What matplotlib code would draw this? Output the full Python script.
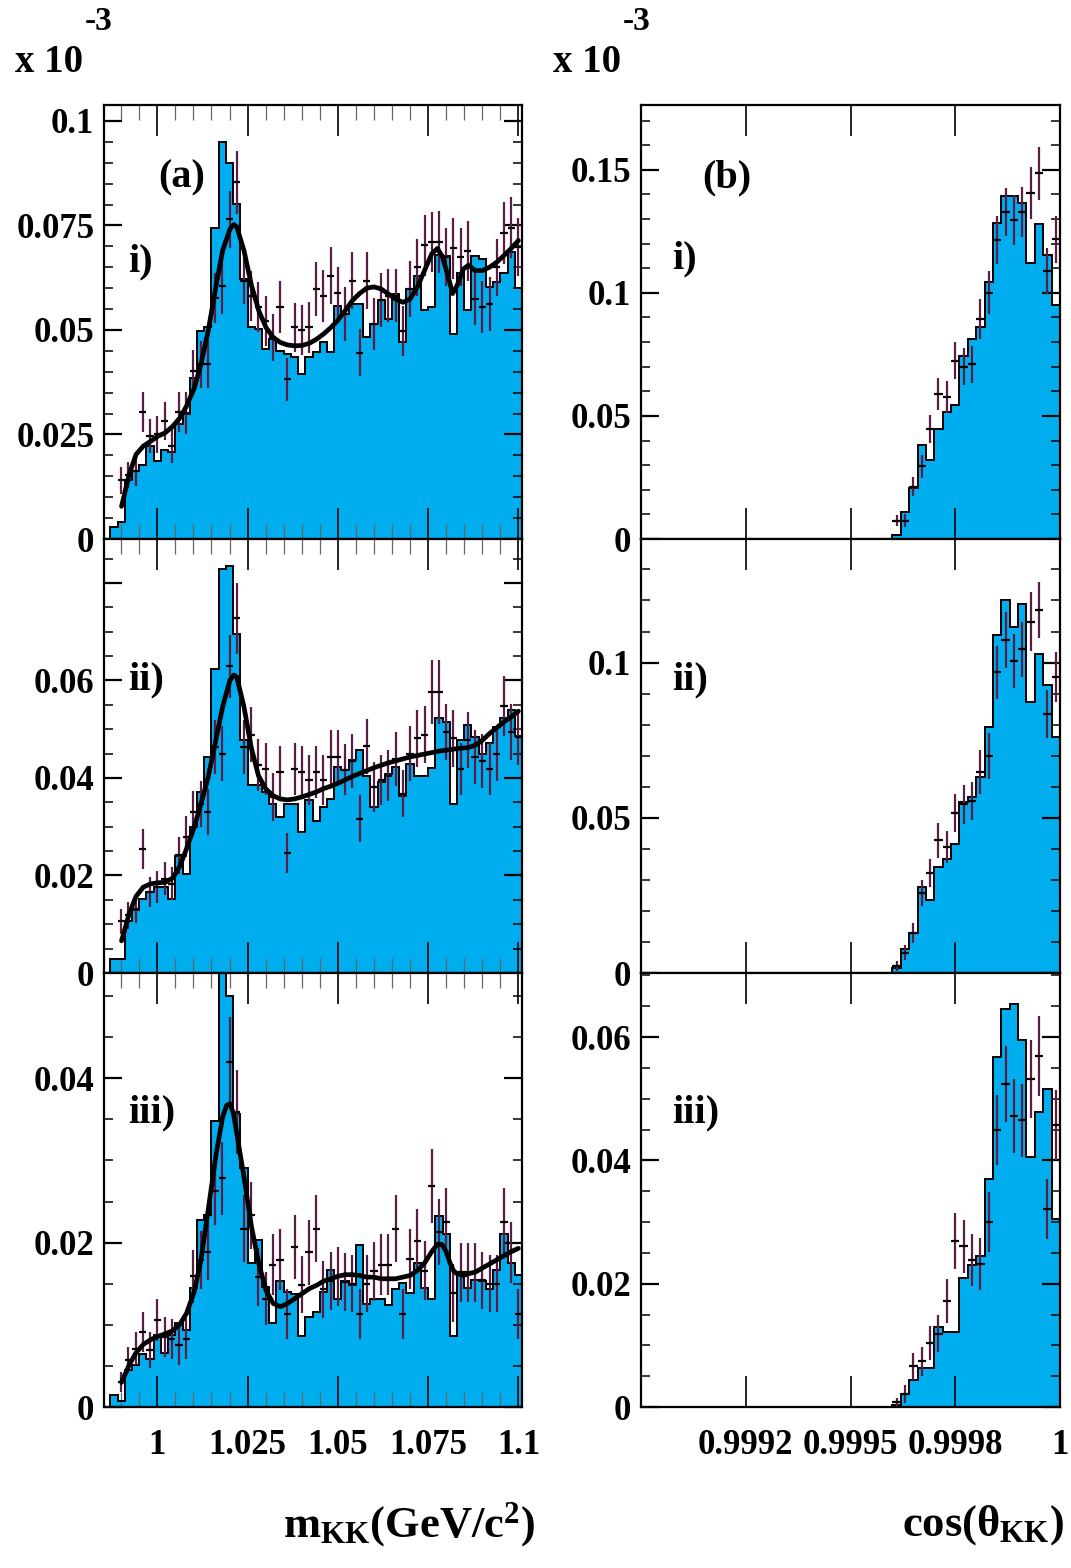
"""K+K- mass and opening-angle distributions, ROOT-style 3x2 panel figure."""
import numpy as np
import matplotlib
matplotlib.use("Agg")
import matplotlib.pyplot as plt
from matplotlib.ticker import MultipleLocator

plt.rcParams["font.family"] = ["Liberation Serif", "DejaVu Serif"]
plt.rcParams["font.weight"] = "bold"
plt.rcParams["mathtext.fontset"] = "custom"
plt.rcParams["mathtext.rm"] = "Liberation Serif:bold"
plt.rcParams["mathtext.it"] = "Liberation Serif:bold:italic"
plt.rcParams["mathtext.bf"] = "Liberation Serif:bold"

FILL = "#00aeef"
ERR = "#5a1e46"

# ---- m_KK histograms (units of 1e-3), 0.002 GeV bins from 0.987 ----
M_EDGES = np.linspace(0.987, 1.101, 58)

hist_a1 = [0.0028, 0.0041, 0.0142, 0.0162, 0.0178, 0.0222, 0.0186, 0.0212, 0.0208, 0.0274,
           0.0300, 0.0384, 0.0498, 0.0506, 0.0745, 0.0949, 0.0900, 0.0801, 0.0622, 0.0506,
           0.0502, 0.0454, 0.0478, 0.0450, 0.0442, 0.0435, 0.0395, 0.0435, 0.0448, 0.0472,
           0.0448, 0.0558, 0.0538, 0.0563, 0.0563, 0.0483, 0.0514, 0.0571, 0.0526, 0.0586,
           0.0472, 0.0598, 0.0628, 0.0547, 0.0556, 0.0680, 0.0678, 0.0490, 0.0635, 0.0547,
           0.0678, 0.0670, 0.0602, 0.0614, 0.0635, 0.0686, 0.0600]
hist_a2 = [0.0029, 0.0029, 0.0107, 0.0129, 0.0152, 0.0166, 0.0176, 0.0176, 0.0152, 0.0239,
           0.0203, 0.0299, 0.0371, 0.0443, 0.0624, 0.0828, 0.0834, 0.0696, 0.0478, 0.0385,
           0.0385, 0.0371, 0.0347, 0.0320, 0.0347, 0.0347, 0.0289, 0.0355, 0.0311, 0.0340,
           0.0357, 0.0422, 0.0417, 0.0436, 0.0458, 0.0405, 0.0340, 0.0392, 0.0409, 0.0422,
           0.0362, 0.0428, 0.0405, 0.0405, 0.0421, 0.0522, 0.0515, 0.0347, 0.0478, 0.0508,
           0.0484, 0.0450, 0.0472, 0.0504, 0.0522, 0.0539, 0.0485]
hist_a3 = [0.0015, 0.0007, 0.0045, 0.0051, 0.0065, 0.0059, 0.0087, 0.0066, 0.0087, 0.0102,
           0.0094, 0.0145, 0.0227, 0.0233, 0.0348, 0.0620, 0.0500, 0.0357, 0.0291, 0.0175,
           0.0203, 0.0146, 0.0102, 0.0153, 0.0140, 0.0138, 0.0086, 0.0109, 0.0116, 0.0140,
           0.0167, 0.0132, 0.0153, 0.0149, 0.0197, 0.0125, 0.0131, 0.0131, 0.0124, 0.0144,
           0.0151, 0.0139, 0.0175, 0.0145, 0.0131, 0.0232, 0.0210, 0.0086, 0.0162, 0.0145,
           0.0154, 0.0153, 0.0143, 0.0167, 0.0211, 0.0175, 0.0160]

# data points sit in bins 1..56
pts_a1 = [0.0140, 0.0153, 0.0162, 0.0304, 0.0246, 0.0250, 0.0282, 0.0222, 0.0304, 0.0302,
          0.0402, 0.0418, 0.0418, 0.0576, 0.0606, 0.0765, 0.0853, 0.0618, 0.0582, 0.0554,
          0.0522, 0.0482, 0.0554, 0.0382, 0.0506, 0.0499, 0.0506, 0.0598, 0.0582, 0.0630,
          0.0588, 0.0538, 0.0618, 0.0446, 0.0618, 0.0515, 0.0571, 0.0582, 0.0582, 0.0498,
          0.0598, 0.0650, 0.0702, 0.0710, 0.0710, 0.0674, 0.0695, 0.0674, 0.0688, 0.0575,
          0.0554, 0.0562, 0.0650, 0.0731, 0.0745, 0.0698]
err_a1 = [0.0032, 0.0032, 0.0036, 0.0048, 0.0040, 0.0044, 0.0046, 0.0040, 0.0048, 0.0050,
          0.0050, 0.0056, 0.0058, 0.0060, 0.0068, 0.0068, 0.0076, 0.0056, 0.0060, 0.0060,
          0.0060, 0.0056, 0.0062, 0.0052, 0.0058, 0.0060, 0.0060, 0.0064, 0.0062, 0.0068,
          0.0062, 0.0064, 0.0068, 0.0056, 0.0068, 0.0062, 0.0064, 0.0064, 0.0064, 0.0060,
          0.0066, 0.0068, 0.0072, 0.0072, 0.0074, 0.0070, 0.0072, 0.0070, 0.0072, 0.0064,
          0.0062, 0.0064, 0.0068, 0.0074, 0.0074, 0.0070]
pts_a2 = [0.0106, 0.0118, 0.0131, 0.0255, 0.0166, 0.0176, 0.0193, 0.0183, 0.0241, 0.0279,
          0.0330, 0.0347, 0.0330, 0.0463, 0.0450, 0.0629, 0.0727, 0.0463, 0.0489, 0.0426,
          0.0419, 0.0361, 0.0412, 0.0246, 0.0419, 0.0412, 0.0396, 0.0412, 0.0396, 0.0443,
          0.0443, 0.0417, 0.0435, 0.0316, 0.0465, 0.0381, 0.0396, 0.0405, 0.0439, 0.0368,
          0.0450, 0.0481, 0.0489, 0.0576, 0.0576, 0.0494, 0.0481, 0.0419, 0.0478, 0.0443,
          0.0435, 0.0419, 0.0450, 0.0548, 0.0494, 0.0484]
err_a2 = [0.0026, 0.0027, 0.0029, 0.0041, 0.0031, 0.0033, 0.0034, 0.0034, 0.0038, 0.0042,
          0.0044, 0.0047, 0.0047, 0.0055, 0.0056, 0.0065, 0.0072, 0.0055, 0.0056, 0.0053,
          0.0053, 0.0049, 0.0053, 0.0041, 0.0053, 0.0053, 0.0051, 0.0053, 0.0051, 0.0056,
          0.0056, 0.0053, 0.0055, 0.0048, 0.0056, 0.0051, 0.0051, 0.0053, 0.0055, 0.0049,
          0.0056, 0.0058, 0.0058, 0.0065, 0.0065, 0.0058, 0.0058, 0.0053, 0.0058, 0.0055,
          0.0055, 0.0053, 0.0056, 0.0062, 0.0058, 0.0058]
pts_a3 = [0.0030, 0.0057, 0.0071, 0.0091, 0.0069, 0.0106, 0.0085, 0.0083, 0.0075, 0.0083,
          0.0159, 0.0179, 0.0189, 0.0263, 0.0278, 0.0420, 0.0359, 0.0217, 0.0233, 0.0158,
          0.0132, 0.0173, 0.0179, 0.0113, 0.0195, 0.0149, 0.0188, 0.0217, 0.0143, 0.0153,
          0.0159, 0.0152, 0.0150, 0.0113, 0.0150, 0.0165, 0.0173, 0.0173, 0.0217, 0.0113,
          0.0180, 0.0202, 0.0166, 0.0269, 0.0213, 0.0225, 0.0139, 0.0164, 0.0164, 0.0164,
          0.0154, 0.0150, 0.0150, 0.0225, 0.0188, 0.0113]
err_a3 = [0.0012, 0.0016, 0.0020, 0.0024, 0.0022, 0.0026, 0.0024, 0.0024, 0.0024, 0.0025,
          0.0032, 0.0035, 0.0035, 0.0041, 0.0045, 0.0055, 0.0051, 0.0041, 0.0041, 0.0035,
          0.0032, 0.0037, 0.0037, 0.0030, 0.0039, 0.0035, 0.0039, 0.0041, 0.0035, 0.0035,
          0.0036, 0.0035, 0.0035, 0.0030, 0.0035, 0.0036, 0.0037, 0.0037, 0.0041, 0.0030,
          0.0037, 0.0039, 0.0036, 0.0045, 0.0040, 0.0041, 0.0035, 0.0036, 0.0036, 0.0036,
          0.0035, 0.0035, 0.0035, 0.0041, 0.0037, 0.0030]

# fit curves
fit_a1_x = [0.9901, 0.9922, 0.9941, 0.9961, 0.9982, 1.0002, 1.0022, 1.0043, 1.0063, 1.0081,
            1.0102, 1.0121, 1.0141, 1.0162, 1.0181, 1.0201, 1.0212, 1.0220, 1.0240, 1.0261,
            1.0281, 1.0301, 1.0321, 1.0341, 1.0361, 1.0381, 1.0401, 1.0421, 1.0441, 1.0460,
            1.0481, 1.0500, 1.0520, 1.0540, 1.0560, 1.0580, 1.0600, 1.0620, 1.0640, 1.0660,
            1.0680, 1.0700, 1.0720, 1.0740, 1.0760, 1.0776, 1.0790, 1.0806, 1.0818, 1.0830,
            1.0848, 1.0862, 1.0880, 1.0900, 1.0920, 1.0940, 1.0960, 1.0980, 1.1000]
fit_a1_y = [0.0078, 0.0154, 0.0202, 0.0222, 0.0234, 0.0246, 0.0254, 0.0270, 0.0290, 0.0318,
            0.0360, 0.0418, 0.0498, 0.0602, 0.0690, 0.0741, 0.0752, 0.0747, 0.0690, 0.0606,
            0.0546, 0.0506, 0.0482, 0.0470, 0.0464, 0.0462, 0.0463, 0.0468, 0.0478, 0.0490,
            0.0506, 0.0523, 0.0546, 0.0570, 0.0587, 0.0600, 0.0603, 0.0598, 0.0586, 0.0574,
            0.0566, 0.0574, 0.0602, 0.0642, 0.0682, 0.0695, 0.0674, 0.0626, 0.0587, 0.0606,
            0.0646, 0.0655, 0.0642, 0.0642, 0.0650, 0.0662, 0.0678, 0.0695, 0.0714]
fit_a2_x = [0.9901, 0.9922, 0.9941, 0.9961, 0.9982, 1.0002, 1.0022, 1.0043, 1.0063, 1.0081,
            1.0102, 1.0121, 1.0141, 1.0162, 1.0181, 1.0201, 1.0212, 1.0220, 1.0240, 1.0260,
            1.0280, 1.0300, 1.0320, 1.0340, 1.0360, 1.0380, 1.0400, 1.0420, 1.0440, 1.0460,
            1.0480, 1.0500, 1.0520, 1.0540, 1.0560, 1.0580, 1.0600, 1.0620, 1.0640, 1.0660,
            1.0680, 1.0700, 1.0720, 1.0740, 1.0760, 1.0780, 1.0800, 1.0820, 1.0840, 1.0860,
            1.0880, 1.0900, 1.0920, 1.0940, 1.0960, 1.0980, 1.1000]
fit_a2_y = [0.0066, 0.0121, 0.0157, 0.0176, 0.0183, 0.0185, 0.0186, 0.0195, 0.0220, 0.0255,
            0.0299, 0.0347, 0.0402, 0.0477, 0.0546, 0.0600, 0.0611, 0.0607, 0.0546, 0.0463,
            0.0405, 0.0378, 0.0364, 0.0357, 0.0355, 0.0357, 0.0361, 0.0366, 0.0371, 0.0378,
            0.0383, 0.0389, 0.0396, 0.0403, 0.0409, 0.0415, 0.0421, 0.0426, 0.0431, 0.0435,
            0.0439, 0.0443, 0.0446, 0.0449, 0.0452, 0.0455, 0.0457, 0.0459, 0.0461, 0.0462,
            0.0467, 0.0477, 0.0491, 0.0503, 0.0515, 0.0525, 0.0537]
fit_a3_x = [0.9901, 0.9922, 0.9941, 0.9961, 0.9982, 1.0002, 1.0022, 1.0043, 1.0063, 1.0081,
            1.0102, 1.0121, 1.0141, 1.0162, 1.0181, 1.0192, 1.0201, 1.0211, 1.0220, 1.0240,
            1.0261, 1.0281, 1.0301, 1.0321, 1.0341, 1.0361, 1.0381, 1.0401, 1.0421, 1.0441,
            1.0460, 1.0481, 1.0500, 1.0520, 1.0540, 1.0560, 1.0580, 1.0600, 1.0620, 1.0640,
            1.0660, 1.0680, 1.0700, 1.0720, 1.0740, 1.0760, 1.0776, 1.0788, 1.0800, 1.0811,
            1.0820, 1.0830, 1.0848, 1.0860, 1.0880, 1.0900, 1.0920, 1.0940, 1.0960, 1.0980,
            1.1000]
fit_a3_y = [0.0030, 0.0051, 0.0066, 0.0076, 0.0082, 0.0086, 0.0089, 0.0093, 0.0101, 0.0114,
            0.0140, 0.0179, 0.0240, 0.0305, 0.0353, 0.0367, 0.0369, 0.0357, 0.0333, 0.0280,
            0.0219, 0.0175, 0.0142, 0.0126, 0.0122, 0.0126, 0.0132, 0.0138, 0.0144, 0.0148,
            0.0153, 0.0156, 0.0159, 0.0161, 0.0161, 0.0160, 0.0158, 0.0158, 0.0156, 0.0156,
            0.0156, 0.0158, 0.0160, 0.0166, 0.0175, 0.0189, 0.0198, 0.0198, 0.0189, 0.0175,
            0.0166, 0.0162, 0.0160, 0.0162, 0.0164, 0.0169, 0.0174, 0.0179, 0.0184, 0.0189,
            0.0193]

# ---- cos(theta_KK) histograms, 2e-5 bins, non-empty from 0.9996 ----
C_EDGES = np.linspace(0.9996, 1.0, 21)

hist_b1 = [0.0016, 0.0111, 0.0206, 0.0383, 0.0322, 0.0448, 0.0515, 0.0546, 0.0743, 0.0813,
           0.0861, 0.1044, 0.1283, 0.1392, 0.1392, 0.1365, 0.1123, 0.1279, 0.1154, 0.0949]
pts_b1 = [0.0075, 0.0075, 0.0213, 0.0295, 0.0448, 0.0587, 0.0577, 0.0725, 0.0699, 0.0709,
          0.0892, 0.1001, 0.1214, 0.1327, 0.1297, 0.1327, 0.1404, 0.1485, 0.1089, 0.1218]
err_b1 = [0.0024, 0.0027, 0.0038, 0.0048, 0.0057, 0.0065, 0.0065, 0.0075, 0.0075, 0.0075,
          0.0081, 0.0088, 0.0098, 0.0098, 0.0102, 0.0102, 0.0106, 0.0106, 0.0092, 0.0095]
hist_b2 = [0.0016, 0.0077, 0.0129, 0.0277, 0.0234, 0.0341, 0.0366, 0.0416, 0.0551, 0.0567,
           0.0631, 0.0792, 0.1088, 0.1202, 0.1115, 0.1188, 0.0873, 0.1029, 0.0928, 0.0760]
pts_b2 = [0.0022, 0.0065, 0.0129, 0.0258, 0.0323, 0.0427, 0.0406, 0.0516, 0.0543, 0.0554,
          0.0647, 0.0699, 0.0968, 0.1073, 0.1005, 0.1043, 0.1131, 0.1169, 0.0833, 0.0954]
err_b2 = [0.0016, 0.0024, 0.0032, 0.0041, 0.0045, 0.0056, 0.0052, 0.0062, 0.0062, 0.0062,
          0.0070, 0.0073, 0.0086, 0.0091, 0.0086, 0.0089, 0.0095, 0.0091, 0.0077, 0.0081]
hist_b3 = [0.0004, 0.0021, 0.0043, 0.0064, 0.0064, 0.0129, 0.0122, 0.0122, 0.0210, 0.0231,
           0.0245, 0.0370, 0.0567, 0.0646, 0.0654, 0.0595, 0.0406, 0.0479, 0.0516, 0.0305]
pts_b3 = [0.0008, 0.0021, 0.0066, 0.0074, 0.0104, 0.0119, 0.0172, 0.0269, 0.0261, 0.0238,
          0.0232, 0.0300, 0.0449, 0.0524, 0.0472, 0.0465, 0.0532, 0.0570, 0.0321, 0.0457]
err_b3 = [0.0007, 0.0014, 0.0022, 0.0024, 0.0028, 0.0030, 0.0035, 0.0045, 0.0043, 0.0042,
          0.0042, 0.0048, 0.0057, 0.0062, 0.0060, 0.0059, 0.0064, 0.0065, 0.0049, 0.0057]

M_TICKS = [1.0, 1.025, 1.05, 1.075, 1.1]
M_LABELS = ["1", "1.025", "1.05", "1.075", "1.1"]
C_TICKS = [0.99925, 0.9995, 0.99975, 1.0]
C_LABELS = ["0.9992", "0.9995", "0.9998", "1"]


def style(ax, xminor, bottom):
    for sp in ax.spines.values():
        sp.set_linewidth(1.6)
    ax.tick_params(which="both", direction="in", top=True, right=True,
                   labelsize=25, labelbottom=bottom)
    ax.tick_params(axis="x", which="major", length=22, width=1.2, pad=16)
    ax.tick_params(axis="x", which="minor", length=11, width=0.9, color="#666666")
    ax.tick_params(axis="y", which="major", length=13, width=1.6, pad=7)
    ax.tick_params(axis="y", which="minor", length=6.5, width=1.1)
    if xminor:
        ax.xaxis.set_minor_locator(MultipleLocator(xminor))


def draw(ax, edges, hist, pts, err, half):
    centers = 0.5 * (edges[:-1] + edges[1:])
    centers = centers[len(centers) - len(pts):]
    ax.stairs(hist, edges, fill=True, color=FILL, lw=0, zorder=1)
    ax.stairs(hist, edges, color="black", lw=1.4, zorder=2)
    ax.errorbar(centers, pts, yerr=err, fmt="none", ecolor=ERR, elinewidth=1.6, zorder=3)
    ax.errorbar(centers, pts, xerr=half, fmt="none", ecolor="black", elinewidth=1.6, zorder=4)


fig = plt.figure(figsize=(10.71, 15.68), dpi=100)
W, H = 1071, 1568
rows = [(105, 539), (539, 973), (973, 1407)]

left_panels = [
    (hist_a1, pts_a1, err_a1, fit_a1_x, fit_a1_y, 0.1038,
     [0, 0.025, 0.05, 0.075, 0.1], ["0", "0.025", "0.05", "0.075", "0.1"], "i)", 0.638),
    (hist_a2, pts_a2, err_a2, fit_a2_x, fit_a2_y, 0.0890,
     [0, 0.02, 0.04, 0.06, 0.08], ["0", "0.02", "0.04", "0.06", ""], "ii)", 0.675),
    (hist_a3, pts_a3, err_a3, fit_a3_x, fit_a3_y, 0.0528,
     [0, 0.02, 0.04], ["0", "0.02", "0.04"], "iii)", 0.677),
]
right_panels = [
    (hist_b1, pts_b1, err_b1, 0.1763, 0.01,
     [0, 0.05, 0.1, 0.15], ["0", "0.05", "0.1", "0.15"], "i)", 0.645),
    (hist_b2, pts_b2, err_b2, 0.1398, 0.01,
     [0, 0.05, 0.1], ["0", "0.05", "0.1"], "ii)", 0.675),
    (hist_b3, pts_b3, err_b3, 0.0704, 0.005,
     [0, 0.02, 0.04, 0.06], ["0", "0.02", "0.04", "0.06"], "iii)", 0.677),
]

for r, (top, bot) in enumerate(rows):
    y0 = 1 - bot / H
    h = (bot - top) / H
    last = r == 2

    hist, pts, err, fx, fy, ymax, yt, yl, tag, ty = left_panels[r]
    ax = fig.add_axes([104 / W, y0, 418 / W, h])
    draw(ax, M_EDGES, hist, pts, err, 0.001)
    ax.plot(fx, fy, color="black", lw=3.4, zorder=5, solid_capstyle="round")
    ax.set_xlim(0.98524, 1.101)
    ax.set_ylim(0, ymax)
    ax.set_xticks(M_TICKS, M_LABELS)
    ax.set_yticks(yt, yl)
    ax.yaxis.set_minor_locator(MultipleLocator(0.005))
    style(ax, 0.005, last)
    ax.text(0.057, ty, tag, transform=ax.transAxes, ha="left", va="center", fontsize=29)
    if r == 0:
        ax.text(0.187, 0.832, "(a)", transform=ax.transAxes, ha="center", va="center",
                fontsize=29)

    hist, pts, err, ymax, yminor, yt, yl, tag, ty = right_panels[r]
    ax = fig.add_axes([641 / W, y0, 419 / W, h])
    draw(ax, C_EDGES, hist, pts, err, 0.00001)
    ax.set_xlim(0.999, 1.0)
    ax.set_ylim(0, ymax)
    ax.set_xticks(C_TICKS, C_LABELS)
    ax.set_yticks(yt, yl)
    ax.yaxis.set_minor_locator(MultipleLocator(yminor))
    style(ax, None, last)
    ax.text(0.074, ty, tag, transform=ax.transAxes, ha="left", va="center", fontsize=29)
    if r == 0:
        ax.text(0.205, 0.832, "(b)", transform=ax.transAxes, ha="center", va="center",
                fontsize=29)

for x in (15, 553):
    fig.text(x / W, 1 - 62 / H, "x 10", ha="left", va="center", fontsize=28)
    fig.text((x + 70) / W, 1 - 22 / H, "-3", ha="left", va="center", fontsize=24)

fig.text(535 / W, 1 - 1525 / H, r"m$_{\mathrm{KK}}$(GeV/c$^{\mathrm{2}}$)",
         ha="right", va="center", fontsize=32)
fig.text(1064 / W, 1 - 1525 / H, r"cos(θ$_{\mathrm{KK}}$)",
         ha="right", va="center", fontsize=32)

fig.savefig("out.png", dpi=100)
